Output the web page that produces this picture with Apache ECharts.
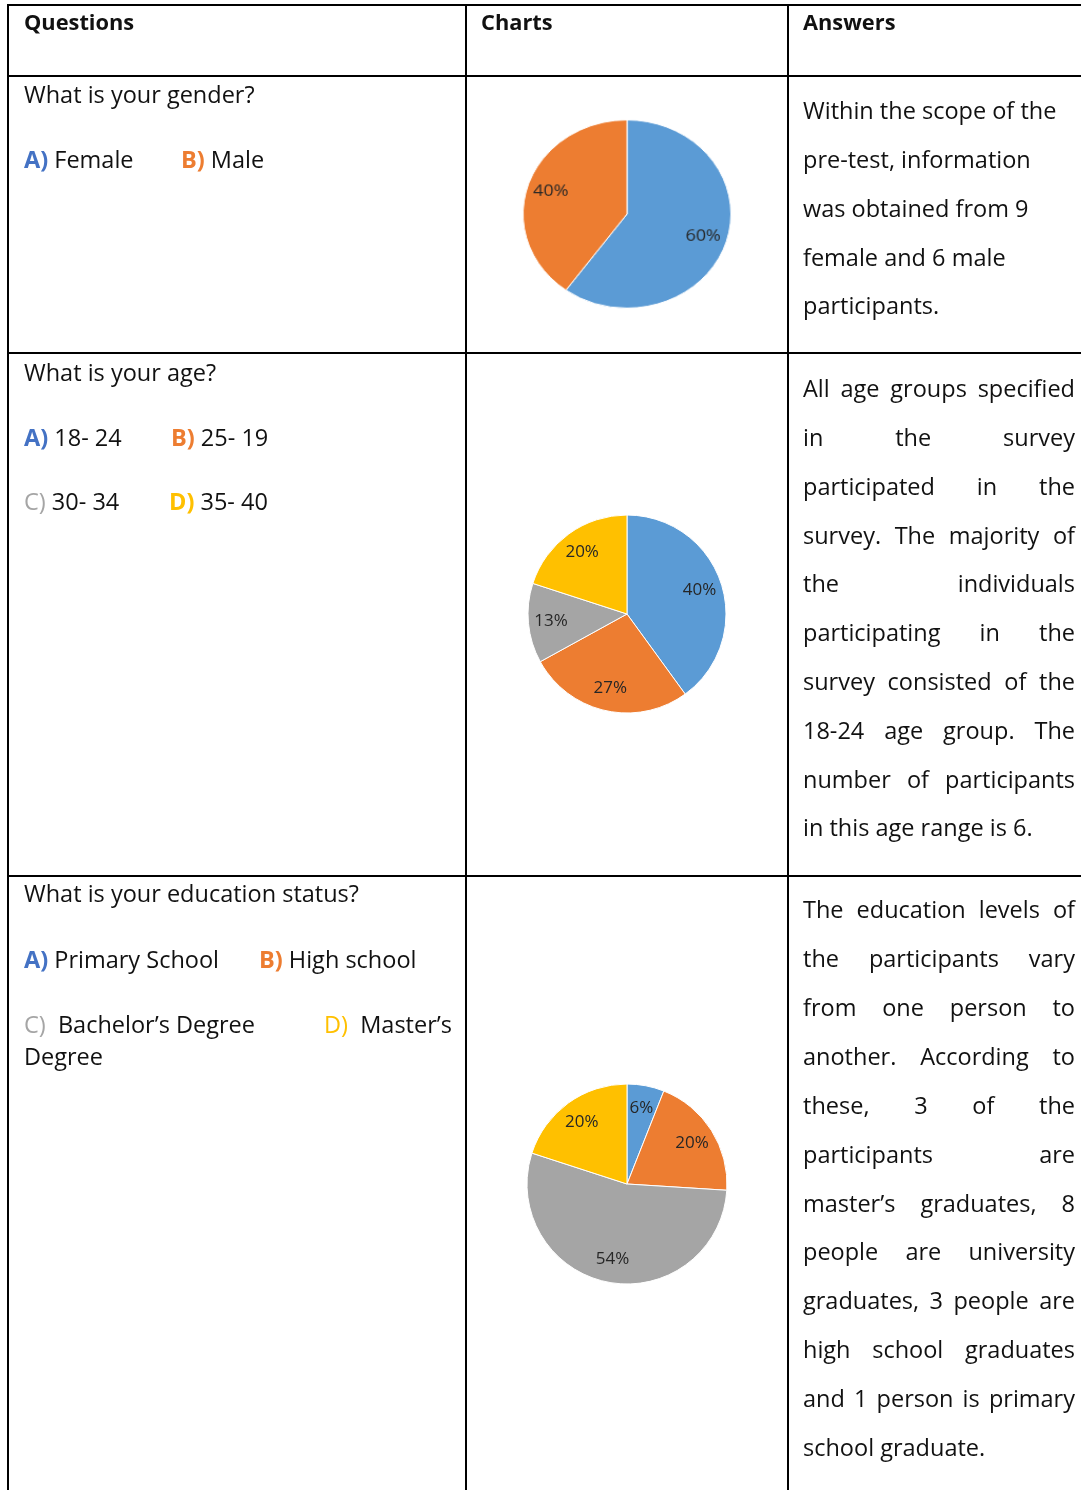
<!DOCTYPE html>
<html>
<head>
<meta charset="utf-8">
<script src="https://cdn.jsdelivr.net/npm/echarts@6/dist/echarts.min.js"></script>
<style>
  html, body { margin: 0; padding: 0; background: #fff; }
  #wrap { position: relative; width: 1081px; height: 1490px; }
  #chart { position: absolute; left: 0; top: 0; width: 1081px; height: 1490px; }
  #gender { position: absolute; left: 517px; top: 104px; width: 220px; height: 220px;
            transform: scale(1.055, 0.955); transform-origin: 110px 110px; }
</style>
</head>
<body>
<div id="wrap">
  <div id="chart"></div>
  <div id="gender"></div>
</div>
<script>
// Survey results: question, pie chart, answer text
const headers = ['Questions', 'Charts', 'Answers'];

const genderQuestion = 'What is your gender?';
const genderOptions = ['Female', 'Male'];
const genderValues = [60, 40];

const ageQuestion = 'What is your age?';
const ageOptions = ['18- 24', '25- 19', '30- 34', '35- 40'];
const ageValues = [40, 27, 13, 20];

const eduQuestion = 'What is your education status?';
const eduOptions = ['Primary School', 'High school', 'Bachelor’s Degree', 'Master’s Degree'];
const eduValues = [6, 20, 54, 20];

const sliceColors = ['#5B9BD5', '#ED7D31', '#A5A5A5', '#FFC000'];
const letterColors = ['#4472C4', '#ED7D31', '#A5A5A5', '#FFC000'];

const genderAnswer = [
  'Within the scope of the', 'pre-test, information', 'was obtained from 9',
  'female and 6 male', 'participants.'
];
const ageAnswer = [
  'All age groups specified', 'in the survey', 'participated in the',
  'survey. The majority of', 'the individuals', 'participating in the',
  'survey consisted of the', '18-24 age group. The', 'number of participants',
  'in this age range is 6.'
];
const eduAnswer = [
  'The education levels of', 'the participants vary', 'from one person to',
  'another. According to', 'these, 3 of the', 'participants are',
  'master’s graduates, 8', 'people are university', 'graduates, 3 people are',
  'high school graduates', 'and 1 person is primary', 'school graduate.'
];

const FONT = '"Open Sans"';
const TEXT = '#111';

const ctx = document.createElement('canvas').getContext('2d');
function measureAt(str, size, weight) {
  ctx.font = (weight || 'normal') + ' ' + size + 'px ' + FONT;
  return ctx.measureText(str).width;
}
// body size chosen so the first question line spans 231px
const SIZE = Math.round(20 * 231 / measureAt(genderQuestion, 20) * 10) / 10;
const BOLD_SIZE = Math.round(20 * 110 / measureAt(headers[0], 20, 'bold') * 10) / 10;
function measure(str) { return measureAt(str, SIZE); }
const DY = 1.5;

const graphics = [];
function line(x1, y1, x2, y2) {
  graphics.push({ type: 'line', shape: { x1, y1, x2, y2 },
    style: { stroke: '#000', lineWidth: 2 }, silent: true });
}
function text(str, x, y, opts) {
  opts = opts || {};
  const size = opts.weight === 'bold' ? BOLD_SIZE : SIZE;
  graphics.push({ type: 'text', x, y: y + DY, silent: true,
    style: { text: str, fill: opts.color || TEXT, font: (opts.weight || 'normal') + ' ' + size + 'px ' + FONT,
      verticalAlign: 'middle', align: 'left', rich: opts.rich } });
}
function option(letterIdx, label, x, y, bold, sep) {
  const letter = 'ABCD'[letterIdx] + ')';
  text('{l|' + letter + '}' + (sep || ' ') + label, x, y, {
    rich: { l: { fill: letterColors[letterIdx], fontWeight: bold ? 'bold' : 'normal',
      fontSize: SIZE, fontFamily: 'Open Sans' } }
  });
}
// answers column paragraph, optionally justified between x0 and x1
function paragraph(lines, y0, step, justify) {
  const x0 = 803, x1 = 1075;
  lines.forEach((ln, i) => {
    const y = y0 + i * step;
    const words = ln.split(' ');
    if (!justify || i === lines.length - 1 || words.length === 1) {
      text(ln, x0, y);
      return;
    }
    const widths = words.map(w => measure(w));
    const total = widths.reduce((a, b) => a + b, 0);
    const gap = (x1 - x0 - total) / (words.length - 1);
    let x = x0;
    words.forEach((w, k) => { text(w, x, y); x += widths[k] + gap; });
  });
}

// table grid
line(8, 5, 1081, 5);
line(8, 76, 1081, 76);
line(8, 353, 1081, 353);
line(8, 876, 1081, 876);
line(8, 4, 8, 1490);
line(466, 4, 466, 1490);
line(788, 4, 788, 1490);

// headers
text(headers[0], 24, 22, { weight: 'bold' });
text(headers[1], 481, 22, { weight: 'bold' });
text(headers[2], 803, 22, { weight: 'bold' });

// row 1
text(genderQuestion, 24, 95);
option(0, genderOptions[0], 24, 160, true);
option(1, genderOptions[1], 181, 160, true);
paragraph(genderAnswer, 111, 48.8, false);

// row 2
text(ageQuestion, 24, 373);
option(0, ageOptions[0], 24, 438, true);
option(1, ageOptions[1], 171, 438, true);
option(2, ageOptions[2], 24, 502, false);
option(3, ageOptions[3], 169, 502, true);
paragraph(ageAnswer, 389, 48.8, true);

// row 3
text(eduQuestion, 24, 894);
option(0, eduOptions[0], 24, 960, true);
option(1, eduOptions[1], 259, 960, true);
option(2, 'Bachelor’s Degree', 24, 1025, false, '  ');
option(3, 'Master’s', 324, 1025, false, '  ');
text('Degree', 24, 1057);
paragraph(eduAnswer, 910, 48.9, true);

function pieSeries(values, names, center, radius) {
  const data = values.map((v, i) => ({ value: v, name: names[i], itemStyle: { color: sliceColors[i] } }));
  return [
    { type: 'pie', center, radius, startAngle: 90, clockwise: true, silent: true,
      label: { show: false }, labelLine: { show: false },
      itemStyle: { borderColor: '#fff', borderWidth: 1 }, data, z: 2 },
    // wider transparent ring whose inside labels sit at about three quarters of the pie radius
    { type: 'pie', center, radius: radius * 1.48, startAngle: 90, clockwise: true, silent: true,
      itemStyle: { color: 'transparent' }, labelLine: { show: false },
      label: { show: true, position: 'inside', formatter: '{c}%', color: '#262626',
        fontFamily: 'Open Sans', fontSize: 17 },
      data: values.map((v, i) => ({ value: v, name: names[i], itemStyle: { color: 'transparent' } })), z: 3 }
  ];
}

const chart = echarts.init(document.getElementById('chart'), null, { renderer: 'canvas' });
chart.setOption({
  animation: false,
  backgroundColor: '#fff',
  graphic: graphics,
  series: [
    ...pieSeries(ageValues, ageOptions, [627, 614], 99),
    ...pieSeries(eduValues, eduOptions, [627, 1184], 100)
  ]
});

// the gender pie is drawn slightly flattened
const genderChart = echarts.init(document.getElementById('gender'), null, { renderer: 'canvas' });
genderChart.setOption({
  animation: false,
  series: pieSeries(genderValues, genderOptions, [110, 110], 98.5)
});
</script>
</body>
</html>
